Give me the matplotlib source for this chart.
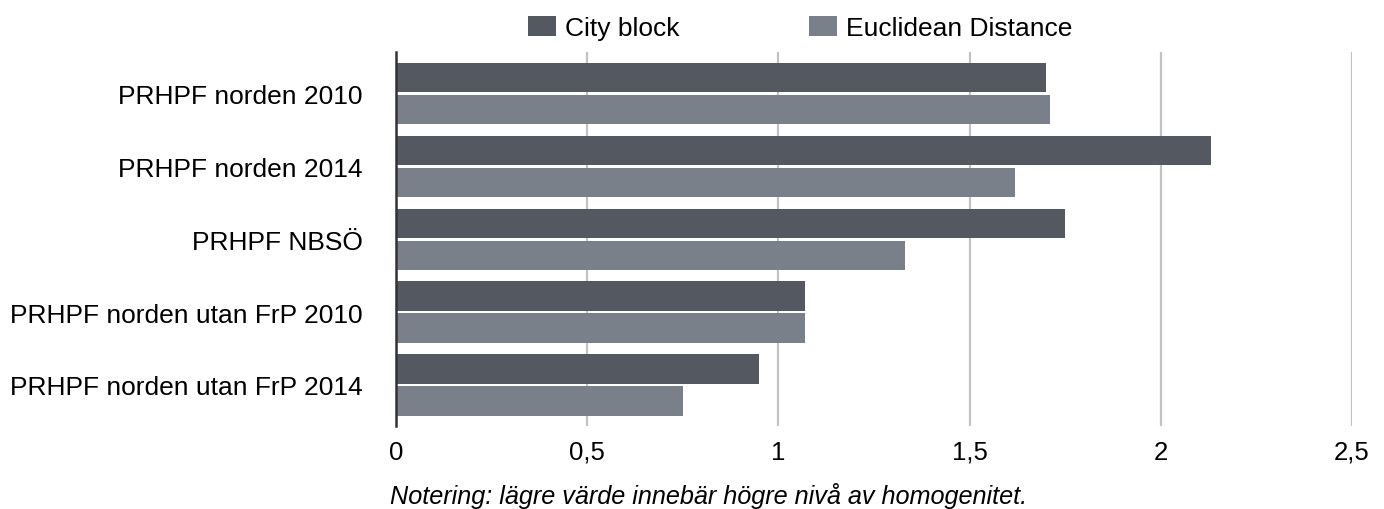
import matplotlib
matplotlib.use('Agg')
import matplotlib.pyplot as plt
import numpy as np

plt.rcParams['font.family'] = ['Liberation Sans', 'DejaVu Sans']

categories = ['PRHPF norden 2010', 'PRHPF norden 2014', 'PRHPF NBSÖ',
              'PRHPF norden utan FrP 2010', 'PRHPF norden utan FrP 2014']
city_block = [1.70, 2.13, 1.75, 1.07, 0.95]
euclidean = [1.71, 1.62, 1.33, 1.07, 0.75]
xticks = [0, 0.5, 1, 1.5, 2, 2.5]
xticklabels = ['0', '0,5', '1', '1,5', '2', '2,5']

fig = plt.figure(figsize=(13.84, 5.1), dpi=100)
ax = fig.add_axes([396 / 1384, 1 - 427 / 510, 956 / 1384, (427 - 53) / 510])

y = np.arange(len(categories))
h = 0.405
ax.barh(y - 0.22, city_block, height=h, color='#545861', label='City block', zorder=3)
ax.barh(y + 0.22, euclidean, height=h, color='#7a8089', label='Euclidean Distance', zorder=3)

ax.set_xlim(0, 2.5)
ax.set_ylim(4.565, -0.573)
ax.set_yticks(y)
ax.set_yticklabels(categories, fontsize=19)
ax.set_xticks(xticks)
ax.set_xticklabels(xticklabels, fontsize=18.5)
ax.grid(axis='x', color='#c2c2c2', linewidth=1.6, zorder=0)
ax.tick_params(axis='y', length=0, pad=24)
ax.tick_params(axis='x', length=0, pad=10)
for s in ['top', 'right', 'bottom']:
    ax.spines[s].set_visible(False)
ax.spines['left'].set_color('#333333')
ax.spines['left'].set_linewidth(1.8)
ax.spines['left'].set_zorder(4)

fig.legend(loc='center left', bbox_to_anchor=(528 / 1384, 1 - 29 / 510), ncol=2,
           frameon=False, fontsize=19, borderpad=0, borderaxespad=0,
           handlelength=1.06, handleheight=0.83, columnspacing=4.9,
           handletextpad=0.34)

fig.text(390 / 1384, 6 / 510, 'Notering: lägre värde innebär högre nivå av homogenitet.',
         fontsize=18.2, style='italic', va='baseline', ha='left')

fig.savefig('out.png', dpi=100)
